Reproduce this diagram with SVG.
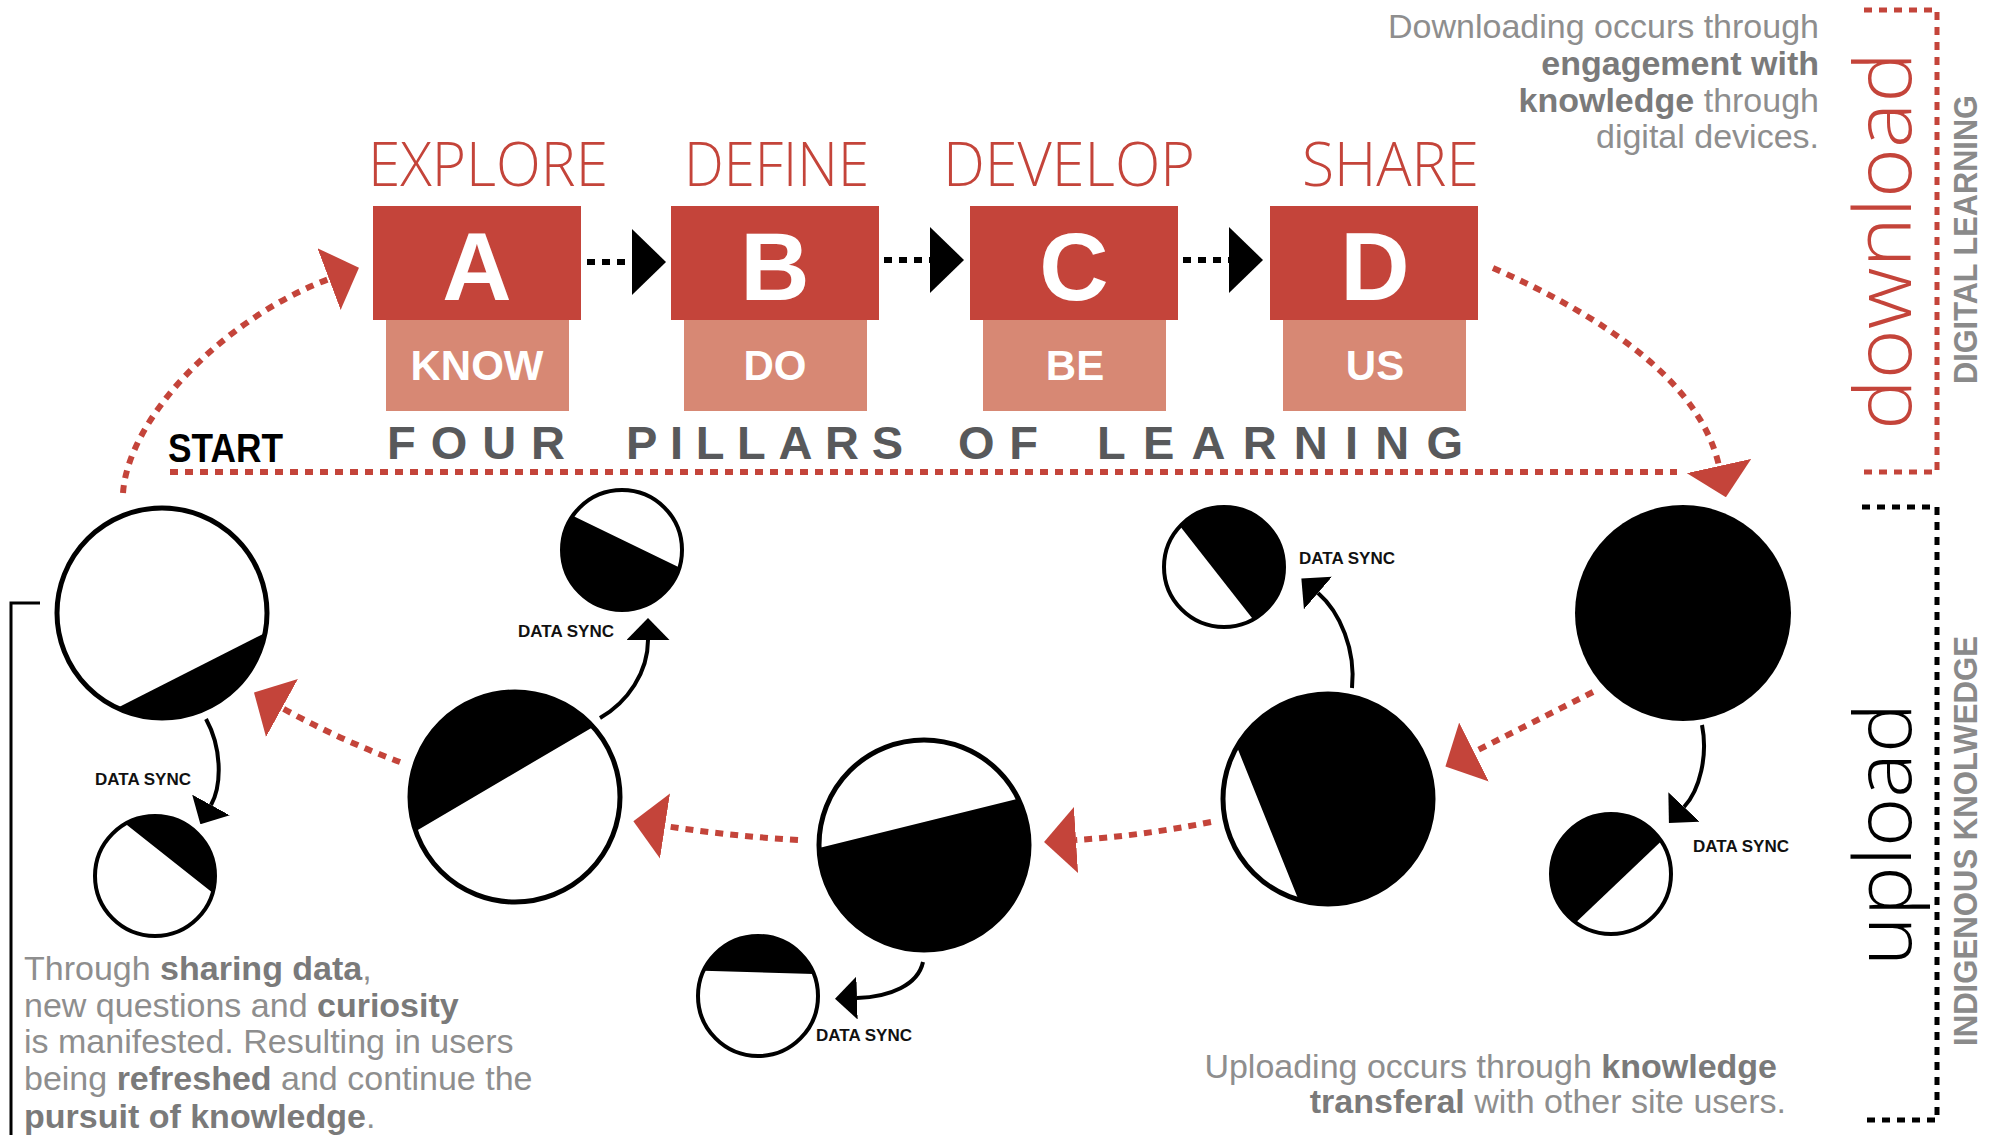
<svg xmlns="http://www.w3.org/2000/svg" width="1993" height="1135" viewBox="0 0 1993 1135">
<style>
.box{fill:#c4443a}
.sub{fill:#d78874}
.lbl{font-family:"Open Sans","Liberation Sans",sans-serif;font-weight:300;font-size:60px;fill:#c4443a}
.big{font-family:"Liberation Sans",sans-serif;font-weight:700;font-size:96px;fill:#fff;text-anchor:middle}
.sublbl{font-family:"Liberation Sans",sans-serif;font-weight:700;font-size:42px;fill:#fff;text-anchor:middle}
.pillars{font-family:"Liberation Sans",sans-serif;font-weight:700;font-size:47px;fill:#58595b}
.start{font-family:"Liberation Sans",sans-serif;font-weight:700;font-size:40px;fill:#000}
.para{font-family:"Liberation Sans",sans-serif;font-size:34px;fill:#8e8e8e}
.b{font-weight:700;fill:#7a7a7a}
.sync{font-family:"Liberation Sans",sans-serif;font-weight:700;font-size:17px;fill:#111}
.thin{font-family:"Open Sans","Liberation Sans",sans-serif;font-weight:300;font-size:80px}
.side{font-family:"Liberation Sans",sans-serif;font-weight:700;font-size:34px;fill:#8a8a8a}
.ring{fill:none;stroke:#000;stroke-width:5}
.ring-s{fill:none;stroke:#000;stroke-width:4}
.wfill{fill:#fff}
.seg{fill:#000}
.red-dash{fill:none;stroke:#c4443a;stroke-width:6;stroke-dasharray:8 7}
.blk-dot{fill:none;stroke:#000;stroke-width:6;stroke-dasharray:8 7}
.sync-arrow{fill:none;stroke:#000;stroke-width:4}
</style>
<defs>
<marker id="redHead" markerUnits="userSpaceOnUse" markerWidth="32" markerHeight="66" viewBox="0 0 32 66" refX="0" refY="33" orient="auto"><path d="M0,0 L32,33 L0,66 Z" fill="#c4443a"/></marker>
<marker id="boxHead" markerUnits="userSpaceOnUse" markerWidth="34" markerHeight="66" viewBox="0 0 34 66" refX="0" refY="33" orient="auto"><path d="M0,0 L34,33 L0,66 Z" fill="#000"/></marker>
<marker id="syncHead" markerUnits="userSpaceOnUse" markerWidth="22" markerHeight="43" viewBox="0 0 22 43" refX="0" refY="21.5" orient="auto"><path d="M0,0 L22,21.5 L0,43 Z" fill="#000"/></marker>
</defs>

<!-- Pillar nodes -->
<g id="node-A">
<text class="lbl" x="368" y="186" textLength="240" lengthAdjust="spacingAndGlyphs">EXPLORE</text>
<rect class="box" x="373" y="206" width="208" height="114"/>
<rect class="sub" x="386" y="320" width="183" height="91"/>
<text class="big" x="477" y="300">A</text>
<text class="sublbl" x="477" y="380">KNOW</text>
</g>
<g id="node-B">
<text class="lbl" x="684" y="186" textLength="185" lengthAdjust="spacingAndGlyphs">DEFINE</text>
<rect class="box" x="671" y="206" width="208" height="114"/>
<rect class="sub" x="684" y="320" width="183" height="91"/>
<text class="big" x="775" y="300">B</text>
<text class="sublbl" x="775" y="380">DO</text>
</g>
<g id="node-C">
<text class="lbl" x="943" y="186" textLength="252" lengthAdjust="spacingAndGlyphs">DEVELOP</text>
<rect class="box" x="970" y="206" width="208" height="114"/>
<rect class="sub" x="983" y="320" width="183" height="91"/>
<text class="big" x="1074" y="300">C</text>
<text class="sublbl" x="1075" y="380">BE</text>
</g>
<g id="node-D">
<text class="lbl" x="1302" y="186" textLength="177" lengthAdjust="spacingAndGlyphs">SHARE</text>
<rect class="box" x="1270" y="206" width="208" height="114"/>
<rect class="sub" x="1283" y="320" width="183" height="91"/>
<text class="big" x="1375" y="300">D</text>
<text class="sublbl" x="1375" y="380">US</text>
</g>

<g id="title">
<text class="pillars" x="387" y="459" textLength="178" lengthAdjust="spacing">FOUR</text>
<text class="pillars" x="626" y="459" textLength="277" lengthAdjust="spacing">PILLARS</text>
<text class="pillars" x="958" y="459" textLength="80" lengthAdjust="spacing">OF</text>
<text class="pillars" x="1097" y="459" textLength="366" lengthAdjust="spacing">LEARNING</text>
<text class="start" x="168" y="462" textLength="115" lengthAdjust="spacingAndGlyphs">START</text>
</g>

<!-- Circle nodes -->
<g id="node-c1">
<circle class="wfill" cx="162" cy="613" r="105"/>
<path class="seg" d="M117.1,707.9 A105,105 0 0 0 265.1,633 Z"/>
<circle class="ring" cx="162" cy="613" r="105"/>
</g>
<g id="node-s1">
<circle class="wfill" cx="155" cy="876" r="60"/>
<path class="seg" d="M125.4,823.8 A60,60 0 0 1 212.6,892.7 Z"/>
<circle class="ring-s" cx="155" cy="876" r="60"/>
<text class="sync" x="95" y="785">DATA SYNC</text>
</g>
<g id="node-c2">
<circle class="wfill" cx="515" cy="797" r="105"/>
<path class="seg" d="M415.7,831.2 A105,105 0 0 1 593.1,726.9 Z"/>
<circle class="ring" cx="515" cy="797" r="105"/>
</g>
<g id="node-s2">
<circle class="wfill" cx="622" cy="550" r="60"/>
<path class="seg" d="M679.4,567.4 A60,60 0 1 1 572.7,515.8 Z"/>
<circle class="ring-s" cx="622" cy="550" r="60"/>
<text class="sync" x="518" y="637">DATA SYNC</text>
</g>
<g id="node-c3">
<circle class="wfill" cx="924" cy="845" r="105"/>
<path class="seg" d="M1018.3,798.8 A105,105 0 1 1 819,848.1 Z"/>
<circle class="ring" cx="924" cy="845" r="105"/>
</g>
<g id="node-s3">
<circle class="wfill" cx="758" cy="996" r="60"/>
<path class="seg" d="M703.6,970.7 A60,60 0 0 1 813.9,974.1 Z"/>
<circle class="ring-s" cx="758" cy="996" r="60"/>
<text class="sync" x="816" y="1041">DATA SYNC</text>
</g>
<g id="node-c4">
<circle class="wfill" cx="1328" cy="799" r="105"/>
<path class="seg" d="M1236.9,746.8 A105,105 0 1 1 1298.5,899.8 Z"/>
<circle class="ring" cx="1328" cy="799" r="105"/>
</g>
<g id="node-s4">
<circle class="wfill" cx="1224" cy="567" r="60"/>
<path class="seg" d="M1180.1,526.2 A60,60 0 1 1 1253.2,619.4 Z"/>
<circle class="ring-s" cx="1224" cy="567" r="60"/>
<text class="sync" x="1299" y="564">DATA SYNC</text>
</g>
<g id="node-c5">
<circle cx="1683" cy="613" r="108" fill="#000"/>
</g>
<g id="node-s5">
<circle class="wfill" cx="1611" cy="874" r="60"/>
<path class="seg" d="M1575.8,922.6 A60,60 0 1 1 1661.2,841.2 Z"/>
<circle class="ring-s" cx="1611" cy="874" r="60"/>
<text class="sync" x="1693" y="852">DATA SYNC</text>
</g>

<!-- Connectors -->
<g id="connectors">
<path class="blk-dot" d="M587,262 H632" marker-end="url(#boxHead)"/>
<path class="blk-dot" d="M884,260 H930" marker-end="url(#boxHead)"/>
<path class="blk-dot" d="M1183,260 H1229" marker-end="url(#boxHead)"/>
<path class="red-dash" d="M170,472 H1677"/>
<path class="red-dash" d="M1493,268 C1600,315 1700,380 1719,466" marker-end="url(#redHead)"/>
<path class="red-dash" d="M123,493 C128,420 220,320 329,279" marker-end="url(#redHead)"/>
<path class="red-dash" d="M1593,692 L1474,752" marker-end="url(#redHead)"/>
<path class="red-dash" d="M1211,822 Q1140,836 1076,840" marker-end="url(#redHead)"/>
<path class="red-dash" d="M798,840 Q730,836 665,826" marker-end="url(#redHead)"/>
<path class="red-dash" d="M400,762 Q340,740 282,708" marker-end="url(#redHead)"/>
<path class="sync-arrow" d="M206,719 C222,748 222,785 211,805" marker-end="url(#syncHead)"/>
<path class="sync-arrow" d="M600,718 C628,702 648,672 648,640" marker-end="url(#syncHead)"/>
<path class="sync-arrow" d="M923,962 C918,985 890,997 857,998" marker-end="url(#syncHead)"/>
<path class="sync-arrow" d="M1352,688 C1356,650 1340,612 1318,593" marker-end="url(#syncHead)"/>
<path class="sync-arrow" d="M1702,725 C1708,755 1700,790 1684,807" marker-end="url(#syncHead)"/>
</g>

<!-- Side brackets and labels -->
<g id="download-side">
<polyline points="1864,10 1937,10 1937,472 1864,472" fill="none" stroke="#c4443a" stroke-width="5" stroke-dasharray="8 7"/>
<text class="thin" fill="#c4443a" transform="translate(1911,430) rotate(-90)" textLength="378" lengthAdjust="spacingAndGlyphs">download</text>
<text class="side" transform="translate(1977,384) rotate(-90)" textLength="289" lengthAdjust="spacingAndGlyphs">DIGITAL LEARNING</text>
</g>
<g id="upload-side">
<polyline points="1862,507 1937,507 1937,1120 1862,1120" fill="none" stroke="#000" stroke-width="5" stroke-dasharray="8 7"/>
<text class="thin" fill="#000" font-size="76" transform="translate(1911,966) rotate(-90)" textLength="263" lengthAdjust="spacingAndGlyphs">upload</text>
<text class="side" transform="translate(1977,1046) rotate(-90)" textLength="410" lengthAdjust="spacingAndGlyphs">INDIGENOUS KNOLWEDGE</text>
</g>

<g id="text-download">
<text class="para" x="1819" y="38" text-anchor="end">Downloading occurs through</text>
<text class="para" x="1819" y="75" text-anchor="end"><tspan class="b">engagement with</tspan></text>
<text class="para" x="1819" y="112" text-anchor="end"><tspan class="b">knowledge</tspan> through</text>
<text class="para" x="1819" y="148" text-anchor="end">digital devices.</text>
</g>
<g id="text-upload">
<text class="para" x="1777" y="1078" text-anchor="end">Uploading occurs through <tspan class="b">knowledge</tspan></text>
<text class="para" x="1786" y="1113" text-anchor="end"><tspan class="b">transferal</tspan> with other site users.</text>
</g>
<g id="text-sharing">
<polyline points="40,603 11,603 11,1135" fill="none" stroke="#000" stroke-width="3"/>
<text class="para" x="24" y="980">Through <tspan class="b">sharing data</tspan>,</text>
<text class="para" x="24" y="1017">new questions and <tspan class="b">curiosity</tspan></text>
<text class="para" x="24" y="1053">is manifested. Resulting in users</text>
<text class="para" x="24" y="1090">being <tspan class="b">refreshed</tspan> and continue the</text>
<text class="para" x="24" y="1128"><tspan class="b">pursuit of knowledge</tspan>.</text>
</g>
</svg>
